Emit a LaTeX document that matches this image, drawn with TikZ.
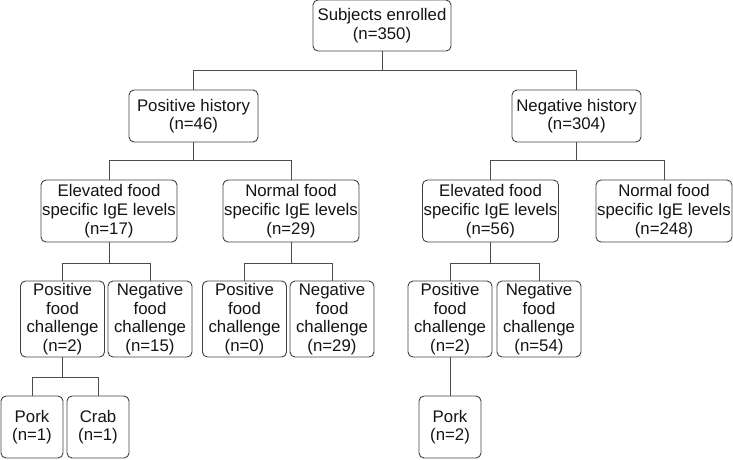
\documentclass[tikz,border=0pt]{standalone}
\usepackage{fontspec}
\setmainfont{Liberation Sans}
\usetikzlibrary{positioning}

\begin{document}
\begin{tikzpicture}[x=1pt,y=-1pt,
	every node/.style={draw=black!75,rounded corners=5pt,line width=0.9pt,align=center,inner sep=0pt,text=black!92,font=\fontsize{16.8}{18.7}\selectfont},
	top/.style={minimum width=138pt,minimum height=51pt},
	hist/.style={minimum width=129pt,minimum height=52pt},
	ige/.style={minimum width=136pt,minimum height=62pt},
	chal/.style={minimum width=84pt,minimum height=76pt},
	food/.style={minimum width=62pt,minimum height=62pt},
	link/.style={draw=black!70,line width=0.9pt}]

	\useasboundingbox (0,0) rectangle (733,459);

	\node[top] (root) at (382,25.5) {Subjects enrolled\\(n=350)};

	\node[hist] (ph) at (193.5,116) {Positive history\\(n=46)};
	\node[hist] (nh) at (576.5,116) {Negative history\\(n=304)};

	\node[ige] (phE) at (109,211) {Elevated food\\specific IgE levels\\(n=17)};
	\node[ige] (phN) at (291,211) {Normal food\\specific IgE levels\\(n=29)};
	\node[ige] (nhE) at (490.5,211) {Elevated food\\specific IgE levels\\(n=56)};
	\node[ige] (nhN) at (664,211) {Normal food\\specific IgE levels\\(n=248)};

	\node[chal] (phEpos) at (62.5,319) {Positive\\food\\challenge\\(n=2)};
	\node[chal] (phEneg) at (150,319) {Negative\\food\\challenge\\(n=15)};
	\node[chal] (phNpos) at (244.5,319) {Positive\\food\\challenge\\(n=0)};
	\node[chal] (phNneg) at (332,319) {Negative\\food\\challenge\\(n=29)};
	\node[chal] (nhEpos) at (450,319) {Positive\\food\\challenge\\(n=2)};
	\node[chal] (nhEneg) at (539,319) {Negative\\food\\challenge\\(n=54)};

	\node[food] (pork1) at (32,427) {Pork\\(n=1)};
	\node[food] (crab1) at (98,427) {Crab\\(n=1)};
	\node[food] (pork2) at (450,427) {Pork\\(n=2)};

	% tree links
	\draw[link] (root.south) -- ++(0,19) -| (ph.north);
	\draw[link] (root.south) -- ++(0,19) -| (nh.north);
	\draw[link] (ph.south) -- ++(0,18) -| (phE.north);
	\draw[link] (ph.south) -- ++(0,18) -| (phN.north);
	\draw[link] (nh.south) -- ++(0,18) -| (nhE.north);
	\draw[link] (nh.south) -- ++(0,18) -| (nhN.north);
	\draw[link] (phE.south) -- ++(0,21) -| (phEpos.north);
	\draw[link] (phE.south) -- ++(0,21) -| (phEneg.north);
	\draw[link] (phN.south) -- ++(0,21) -| (phNpos.north);
	\draw[link] (phN.south) -- ++(0,21) -| (phNneg.north);
	\draw[link] (nhE.south) -- ++(0,21) -| (nhEpos.north);
	\draw[link] (nhE.south) -- ++(0,21) -| (nhEneg.north);
	\draw[link] (phEpos.south) -- ++(0,20) -| (pork1.north);
	\draw[link] (phEpos.south) -- ++(0,20) -| (crab1.north);
	\draw[link] (nhEpos.south) -- (pork2.north);
\end{tikzpicture}
\end{document}
